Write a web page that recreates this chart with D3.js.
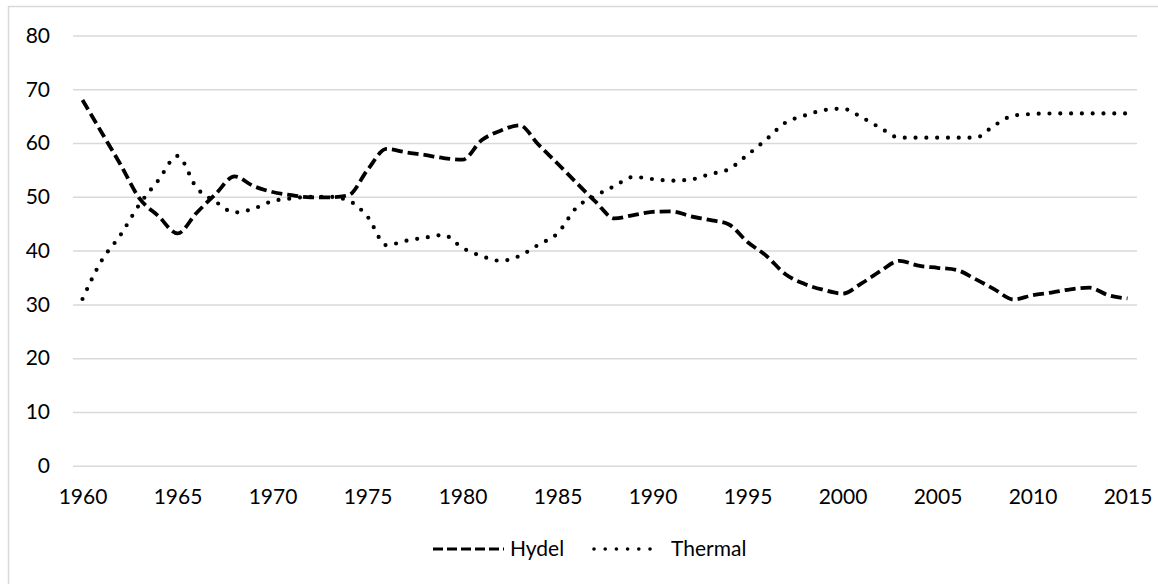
<!DOCTYPE html>
<html>
<head>
<meta charset="utf-8">
<script src="https://cdn.jsdelivr.net/npm/d3@7"></script>
<style>
  html, body { margin: 0; padding: 0; background: #fff; }
  svg text { font-family: Lato, "Open Sans", sans-serif; fill: #000; }
</style>
</head>
<body>
<svg id="chart"></svg>
<script>
'use strict';

// years on the category axis
var years = d3.range(1960, 2016);

var hydel = [
    68, 62, 56, 49.7, 46.4, 43.2, 47, 50.5, 53.8, 52,
    50.9, 50.3, 49.9, 49.9, 50.3, 55, 58.9, 58.3, 57.8, 57.2,
    56.9, 60.5, 62.3, 63.3, 59.7, 56.2, 52.6, 49.1, 46, 46.6,
    47.2, 47.3, 46.4, 45.7, 44.9, 41.6, 39, 35.6, 33.8, 32.7,
    32, 33.9, 36.2, 38.1, 37.2, 36.8, 36.4, 34.7, 32.8, 30.9,
    31.7, 32.2, 32.8, 33.1, 31.7, 31.1
];

var thermal = [
    31, 38.1, 42.9, 48.6, 53.1, 57.6, 51.7, 49.1, 47.1, 47.8,
    49.2, 49.7, 50, 50, 49.3, 46.3, 41, 41.8, 42.4, 42.9,
    40.5, 39, 38.1, 39, 41.1, 43.2, 48, 50.2, 52, 53.7,
    53.3, 53, 53.2, 54.2, 55.1, 57.8, 60.7, 63.8, 65.1, 66.1,
    66.4, 64.8, 62.8, 61, 61, 61, 61, 61, 63.3, 65.1,
    65.4, 65.5, 65.5, 65.5, 65.5, 65.5
];

var xTicks = [1960, 1965, 1970, 1975, 1980, 1985, 1990, 1995, 2000, 2005, 2010, 2015];
var yTicks = [0, 10, 20, 30, 40, 50, 60, 70, 80];

var seriesNames = ["Hydel", "Thermal"];

var svgWidth = 1158,
    svgHeight = 584;

var plotLeft = 73, plotRight = 1137, plotTop = 35.5, plotBottom = 465.7;

var svg = d3.select('#chart')
    .attr("width", svgWidth)
    .attr("height", svgHeight);

// chart frame
svg.append("rect")
    .attr("x", 8.5)
    .attr("y", 6.5)
    .attr("width", 1170)
    .attr("height", 600)
    .attr("fill", "none")
    .attr("stroke", "#d9d9d9")
    .attr("stroke-width", 1.5);

var x = d3.scaleLinear()
    .domain([years[0] - 0.5, years[years.length - 1] + 0.5])
    .range([plotLeft, plotRight]);

var y = d3.scaleLinear()
    .domain([0, 80])
    .range([plotBottom, plotTop]);

// gridlines + y labels
var yAxis = svg.append("g")
    .attr("class", "axis y")
    .attr("transform", "translate(" + plotLeft + ",0)")
    .call(d3.axisLeft(y).tickValues(yTicks).tickSize(-(plotRight - plotLeft)).tickPadding(23));

yAxis.select(".domain").remove();
yAxis.selectAll(".tick line")
    .attr("stroke", "#d9d9d9")
    .attr("stroke-width", 1.5);
yAxis.selectAll(".tick text")
    .attr("font-size", "21px")
    .attr("font-family", "Lato, 'Open Sans', sans-serif")
    .attr("fill", "#000");

// x labels
var xAxis = svg.append("g")
    .attr("class", "axis x")
    .attr("transform", "translate(0," + plotBottom + ")")
    .call(d3.axisBottom(x).tickValues(xTicks).tickSize(0).tickFormat(d3.format("d")));

xAxis.select(".domain").remove();
xAxis.selectAll(".tick text")
    .attr("y", 31)
    .attr("dy", "0.35em")
    .attr("font-size", "21px")
    .attr("font-family", "Lato, 'Open Sans', sans-serif")
    .attr("fill", "#000");

var styles = {
    Hydel: { dash: "11,5", cap: "butt", width: 3.8 },
    Thermal: { dash: "0,10.8", cap: "round", width: 4.2 }
};

var line = d3.line()
    .x(function (d, i) { return x(years[i]) })
    .y(function (d) { return y(d) })
    .curve(d3.curveMonotoneX);

svg.append("path")
    .datum(hydel)
    .attr("fill", "none")
    .attr("stroke", "#000")
    .attr("stroke-width", styles.Hydel.width)
    .attr("stroke-dasharray", styles.Hydel.dash)
    .attr("stroke-linecap", styles.Hydel.cap)
    .attr("stroke-linejoin", "round")
    .attr("d", line);

svg.append("path")
    .datum(thermal)
    .attr("fill", "none")
    .attr("stroke", "#000")
    .attr("stroke-width", styles.Thermal.width)
    .attr("stroke-dasharray", styles.Thermal.dash)
    .attr("stroke-linecap", styles.Thermal.cap)
    .attr("stroke-linejoin", "round")
    .attr("d", line);

// legend
var legendX = [433, 594];
var legend = svg.append("g").attr("class", "legend");

seriesNames.forEach(function (name, i) {
    var g = legend.append("g")
        .attr("transform", "translate(" + legendX[i] + ",549)");
    g.append("line")
        .attr("x1", 0)
        .attr("x2", i === 0 ? 71 : 67)
        .attr("y1", 0)
        .attr("y2", 0)
        .attr("stroke", "#000")
        .attr("stroke-width", styles[name].width - 0.6)
        .attr("stroke-dasharray", i === 0 ? "10,4" : "0,11.2")
        .attr("stroke-linecap", styles[name].cap);
    g.append("text")
        .attr("x", 77)
        .attr("y", 0)
        .attr("dy", "0.35em")
        .attr("font-size", "21px")
        .text(name);
});
</script>
</body>
</html>
